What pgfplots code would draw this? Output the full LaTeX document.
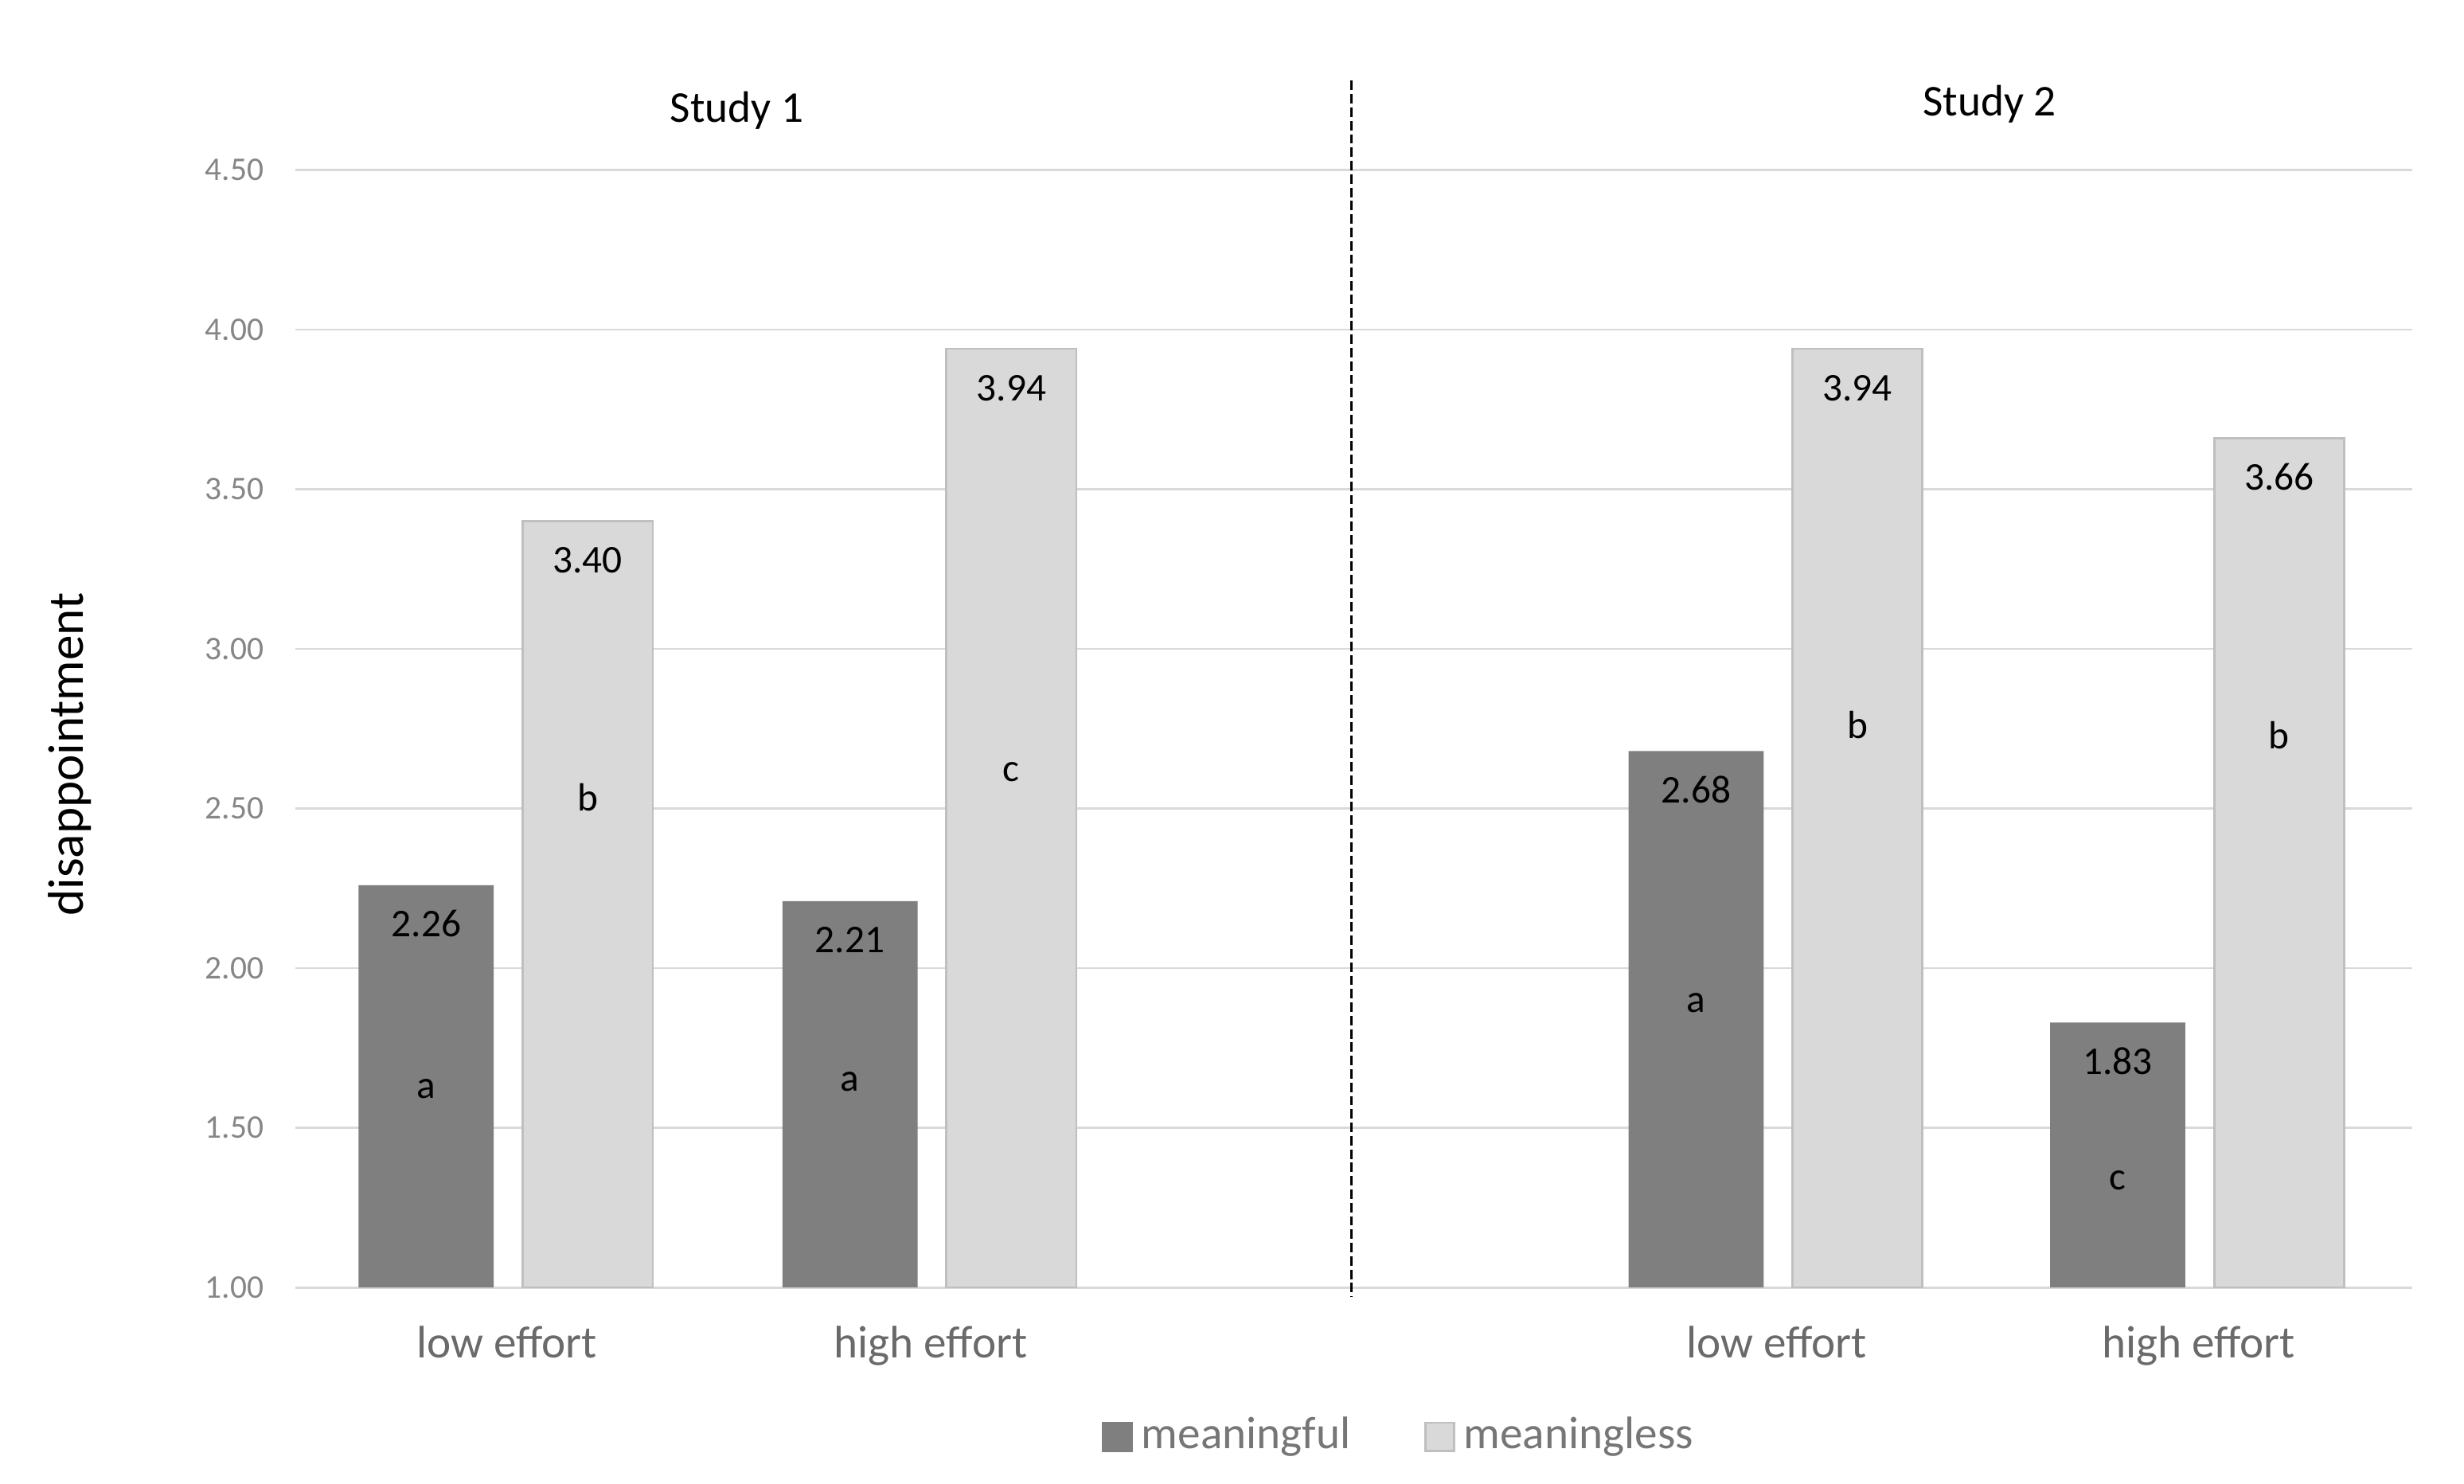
\documentclass[border=0pt]{standalone}
\usepackage{fontspec}
\setmainfont{Carlito}
\usepackage{pgfplots}
\pgfplotsset{compat=1.18}
\definecolor{darkbar}{HTML}{7F7F7F}
\definecolor{lightbar}{HTML}{D9D9D9}
\definecolor{lightedge}{HTML}{BFBFBF}
\definecolor{gridc}{HTML}{D9D9D9}
\definecolor{ytickc}{HTML}{868686}
\definecolor{xtickc}{HTML}{6A6A6A}
\definecolor{legc}{HTML}{767676}
\begin{document}
\begin{tikzpicture}
\begin{axis}[
  scale only axis, width=1347bp, height=711.2bp,
  xmin=188, xmax=1535, ymin=1, ymax=4.5,
  enlargelimits=false,
  axis line style={draw=none},
  tick style={draw=none},
  major tick length=0pt,
  ymajorgrids, grid style={gridc, line width=1.4bp},
  ytick={1,1.5,2,2.5,3,3.5,4,4.5},
  yticklabel style={font=\fontsize{21bp}{25bp}\selectfont, text=ytickc, inner sep=0pt, anchor=east, xshift=-20bp, /pgf/number format/.cd, fixed, zerofill, precision=2},
  xtick={322.6,592.3,1130.7,1399},
  xticklabels={low effort,high effort,low effort,high effort},
  xticklabel style={font=\fontsize{29bp}{34bp}\selectfont, text=xtickc, anchor=base, yshift=-45bp},
  /pgf/number format/assume math mode=true,
  ylabel={disappointment},
  every axis y label/.style={at={(rel axis cs:-0.1001,0.4771)}, rotate=90, anchor=base, font=\fontsize{32bp}{38bp}\selectfont, text=black},
  legend columns=2,
  legend style={draw=none, fill=none, inner sep=0pt, outer sep=0pt,
    at={(axis description cs:0.3811,-0.1316)}, anchor=west,
    font=\fontsize{29bp}{34bp}\selectfont,
    cells={anchor=base west}, nodes={inner sep=0pt, text=legc},
    /tikz/every odd column/.append style={column sep=5.5bp},
    /tikz/every even column/.append style={column sep=47bp}},
]
\addplot[ybar, bar width=86, bar shift=0pt, fill=darkbar, draw=none,
  nodes near coords={\pgfmathprintnumber[fixed,zerofill,precision=2]{\pgfplotspointmeta}},
  every node near coord/.append style={anchor=base, yshift=-33bp, font=\fontsize{25bp}{30bp}\selectfont, text=black},
  legend image code/.code={\fill[darkbar] (0bp,-2.3bp) rectangle (19.6bp,17.2bp);}]
  coordinates {(271.2,2.26) (540.9,2.21) (1079.3,2.68) (1347.6,1.83)};
\addplot[ybar, bar width=82.7, bar shift=0pt, fill=lightbar, draw=lightedge, line width=1.3bp,
  nodes near coords={\pgfmathprintnumber[fixed,zerofill,precision=2]{\pgfplotspointmeta}},
  every node near coord/.append style={anchor=base, yshift=-33bp, font=\fontsize{25bp}{30bp}\selectfont, text=black},
  legend image code/.code={\filldraw[fill=lightbar, draw=lightedge, line width=1.3bp] (0.65bp,-1.65bp) rectangle (18.9bp,16.55bp);}]
  coordinates {(374,3.40) (643.6,3.94) (1182,3.94) (1450.4,3.66)};
\legend{meaningful,meaningless}
\addplot[draw=none, forget plot, nodes near coords, point meta=explicit symbolic,
  every node near coord/.append style={anchor=base, font=\fontsize{25bp}{30bp}\selectfont, text=black}]
  coordinates {(271.2,1.592)[a] (374,2.493)[b] (540.9,1.615)[a] (643.6,2.586)[c] (1079.3,1.863)[a] (1182,2.719)[b] (1347.6,1.307)[c] (1450.4,2.686)[b]};
\coordinate (dtop) at (axis cs:860.2,4.779);
\coordinate (dbot) at (axis cs:860.2,0.970);
\coordinate (s1) at (axis cs:469,4.648);
\coordinate (s2) at (axis cs:1266,4.670);
\coordinate (bbA) at (axis cs:0,0.3863);
\coordinate (bbB) at (axis cs:1568,5.032);
\end{axis}
\draw[black, line width=1.6bp, dash pattern=on 6bp off 2.5bp] (dtop) -- (dbot);
\node[anchor=base, inner sep=0pt, font=\fontsize{28bp}{34bp}\selectfont] at (s1) {Study 1};
\node[anchor=base, inner sep=0pt, font=\fontsize{28bp}{34bp}\selectfont] at (s2) {Study 2};
\pgfresetboundingbox
\path[use as bounding box] (bbA) rectangle (bbB);
\end{tikzpicture}
\end{document}
